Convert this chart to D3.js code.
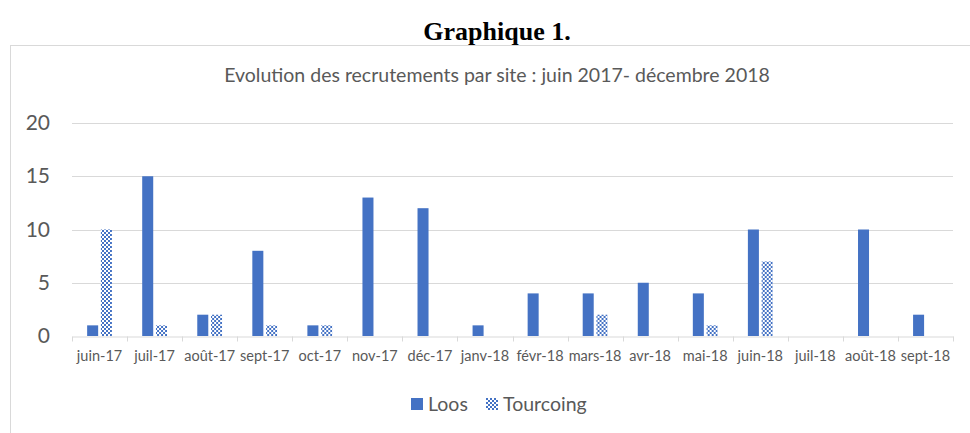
<!DOCTYPE html>
<html>
<head>
<meta charset="utf-8">
<script src="https://cdn.jsdelivr.net/npm/d3@7"></script>
<style>
  body { margin: 0; background: #fff; }
  svg { display: block; }
</style>
</head>
<body>
<div id="chart"></div>
<script>
var months = ["juin-17", "juil-17", "août-17", "sept-17", "oct-17", "nov-17", "déc-17", "janv-18",
  "févr-18", "mars-18", "avr-18", "mai-18", "juin-18", "juil-18", "août-18", "sept-18"];
var loos = [1, 15, 2, 8, 1, 13, 12, 1, 4, 4, 5, 4, 10, 0, 10, 2];
var tourcoing = [10, 1, 2, 1, 1, 0, 0, 0, 0, 2, 0, 1, 7, 0, 0, 0];
var seriesNames = ["Loos", "Tourcoing"];
var yTicks = [0, 5, 10, 15, 20];

var width = 970, height = 433;
var blue = "#4472C4";
var textGrey = "#595959";

var rows = months.map(function(m, i) {
  return { month: m, values: [loos[i], tourcoing[i]] };
});

var svg = d3.select("#chart").append("svg")
  .attr("width", width)
  .attr("height", height);

// checker pattern for Tourcoing
var defs = svg.append("defs");
var pat = defs.append("pattern")
  .attr("id", "checker")
  .attr("patternUnits", "userSpaceOnUse")
  .attr("width", 4).attr("height", 4);
pat.append("rect").attr("width", 4).attr("height", 4).attr("fill", "#fff");
pat.append("rect").attr("width", 2).attr("height", 2).attr("fill", blue);
pat.append("rect").attr("x", 2).attr("y", 2).attr("width", 2).attr("height", 2).attr("fill", blue);

var fills = [blue, "url(#checker)"];

// chart frame
svg.append("rect")
  .attr("x", 10.5).attr("y", 45.5)
  .attr("width", 970).attr("height", 400)
  .attr("fill", "none")
  .attr("stroke", "#d9d9d9");

// heading
svg.append("text")
  .attr("x", 497).attr("y", 40)
  .attr("text-anchor", "middle")
  .style("font-family", "'Liberation Serif', serif")
  .style("font-weight", "bold")
  .style("font-size", "26px")
  .attr("fill", "#000")
  .text("Graphique 1.");

svg.append("text")
  .attr("x", 497).attr("y", 82)
  .attr("text-anchor", "middle")
  .style("font-family", "Lato, sans-serif")
  .style("font-size", "19.5px")
  .attr("fill", textGrey)
  .text("Evolution des recrutements par site : juin 2017- décembre 2018");

/* Scales */
var plotLeft = 72, plotRight = 953, plotTop = 123, plotBottom = 336;

var x0 = d3.scaleBand()
  .domain(months)
  .range([plotLeft, plotRight])
  .paddingInner(0)
  .paddingOuter(0);

var x1 = d3.scaleBand()
  .domain([0, 1])
  .range([0, x0.bandwidth()])
  .paddingInner(0.2)
  .paddingOuter(1.1);

var y = d3.scaleLinear()
  .domain([0, 20])
  .range([plotBottom, plotTop]);

// gridlines
svg.append("g")
  .selectAll("line")
  .data(yTicks.slice(1))
  .enter().append("line")
  .attr("x1", plotLeft).attr("x2", plotRight)
  .attr("y1", function(d) { return Math.round(y(d)) + 0.5; })
  .attr("y2", function(d) { return Math.round(y(d)) + 0.5; })
  .attr("stroke", "#d9d9d9")
  .attr("stroke-width", 1);

// bars
var groups = svg.append("g")
  .selectAll("g")
  .data(rows)
  .enter().append("g")
  .attr("transform", function(d) { return "translate(" + x0(d.month) + ",0)"; });

groups.selectAll("rect")
  .data(function(d) { return d.values.map(function(v, k) { return { k: k, v: v }; }); })
  .enter().append("rect")
  .filter(function(d) { return d.v > 0; })
  .attr("x", function(d) { return x1(d.k); })
  .attr("width", x1.bandwidth())
  .attr("y", function(d) { return y(d.v); })
  .attr("height", function(d) { return y(0) - y(d.v); })
  .attr("fill", function(d) { return fills[d.k]; });

/* Axes */
var xAxis = d3.axisBottom(x0).tickSize(0).tickPadding(14);
var gx = svg.append("g")
  .attr("transform", "translate(0," + (Math.round(plotBottom) + 0.5) + ")")
  .call(xAxis);
gx.select(".domain").attr("stroke", "#d9d9d9");
gx.selectAll("text")
  .style("font-family", "Lato, sans-serif")
  .style("font-size", "14.5px")
  .attr("fill", textGrey);

// ticks at category boundaries
gx.append("g")
  .selectAll("line")
  .data(months.concat(["end"]))
  .enter().append("line")
  .attr("x1", function(d, i) { return Math.round(plotLeft + i * x0.bandwidth()) + 0.5; })
  .attr("x2", function(d, i) { return Math.round(plotLeft + i * x0.bandwidth()) + 0.5; })
  .attr("y1", 0).attr("y2", 5)
  .attr("stroke", "#d9d9d9");

var yAxis = d3.axisLeft(y).tickValues(yTicks).tickSize(0).tickPadding(22);
var gy = svg.append("g")
  .attr("transform", "translate(" + plotLeft + ",0)")
  .call(yAxis);
gy.select(".domain").remove();
gy.selectAll("text")
  .style("font-family", "Lato, sans-serif")
  .style("font-size", "21px")
  .attr("fill", textGrey);

/* Legend */
var legend = svg.append("g").attr("transform", "translate(411,398)");
var legendX = [0, 75];
seriesNames.forEach(function(name, k) {
  var g = legend.append("g").attr("transform", "translate(" + legendX[k] + ",0)");
  g.append("rect")
    .attr("width", 12).attr("height", 12)
    .attr("fill", fills[k]);
  g.append("text")
    .attr("x", 17).attr("y", 13)
    .style("font-family", "Lato, sans-serif")
    .style("font-size", "19.5px")
    .attr("fill", textGrey)
    .text(name);
});
</script>
</body>
</html>
